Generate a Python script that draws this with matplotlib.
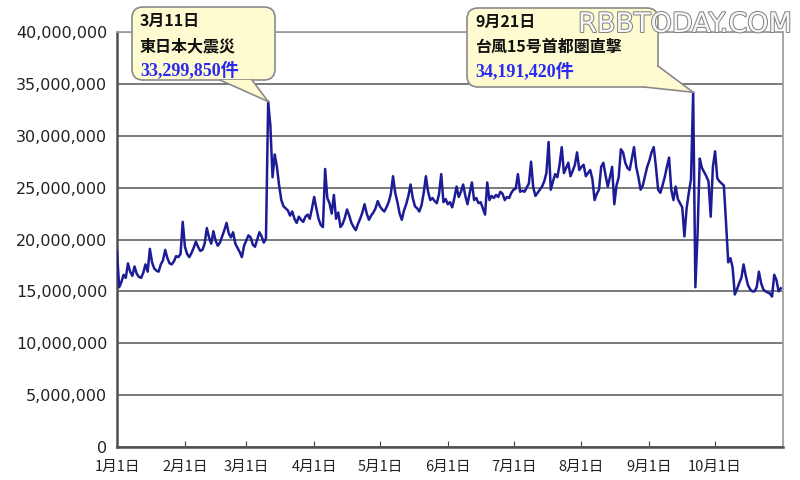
import numpy as np
import pandas as pd
import matplotlib
matplotlib.use('Agg')
import matplotlib.pyplot as plt
import matplotlib.dates as mdates
import matplotlib.patheffects as pe
from matplotlib.patches import FancyBboxPatch, Polygon
from matplotlib.lines import Line2D
from matplotlib.transforms import IdentityTransform

plt.rcParams['font.family'] = ['Noto Sans CJK JP', 'DejaVu Sans']

# daily counts (millions), 2011-01-01 .. 2011-10-31
jan = [18.8, 15.4, 15.9, 16.6, 16.3, 17.7, 16.9, 16.5, 17.4, 16.7,
       16.4, 16.3, 16.8, 17.6, 16.9, 19.1, 17.8, 17.2, 17.0, 16.9,
       17.6, 18.0, 19.0, 18.2, 17.7, 17.6, 17.9, 18.4, 18.3, 18.6, 21.7]
feb = [19.3, 18.6, 18.3, 18.7, 19.2, 19.8, 19.3, 18.9, 19.0, 19.6,
       21.1, 20.2, 19.6, 20.8, 19.9, 19.4, 19.7, 20.3, 20.9, 21.6,
       20.6, 20.2, 20.7, 19.6, 19.2, 18.8, 18.3, 19.4]
mar = [19.9, 20.4, 20.2, 19.5, 19.3, 20.0, 20.7, 20.3, 19.7, 20.1,
       33.29985, 31.0, 26.0, 28.2, 27.0, 25.2, 23.8, 23.2, 23.0, 22.8,
       22.3, 22.7, 22.0, 21.6, 22.2, 21.9, 21.7, 22.2, 22.4, 22.0, 23.0]
apr = [24.1, 23.0, 22.0, 21.4, 21.2, 26.8, 24.0, 23.5, 22.5, 24.3,
       22.0, 22.6, 21.2, 21.5, 22.1, 22.9, 22.3, 21.6, 21.2, 20.9,
       21.5, 22.0, 22.6, 23.4, 22.5, 21.9, 22.3, 22.6, 23.0, 23.7]
may = [23.2, 22.9, 22.7, 23.1, 23.6, 24.4, 26.1, 24.5, 23.6, 22.5,
       21.9, 22.8, 23.4, 24.2, 25.3, 24.0, 23.2, 23.0, 22.7, 23.3,
       24.5, 26.1, 24.6, 23.8, 24.0, 23.7, 23.5, 24.4, 26.3, 23.6, 23.9]
jun = [23.4, 23.6, 23.1, 24.0, 25.1, 24.1, 24.6, 25.3, 24.2, 23.4,
       24.5, 25.5, 23.8, 24.0, 23.5, 23.6, 23.0, 22.4, 25.5, 23.8,
       24.2, 24.0, 24.3, 24.1, 24.6, 24.4, 23.8, 24.1, 24.0, 24.5]
jul = [24.8, 24.9, 26.3, 24.6, 24.7, 24.6, 25.0, 25.4, 27.5, 25.0,
       24.2, 24.5, 24.8, 25.1, 25.6, 26.4, 29.4, 24.8, 25.6, 26.3,
       26.0, 27.2, 28.9, 26.4, 26.9, 27.4, 26.1, 26.6, 27.2, 28.4, 26.7]
aug = [27.0, 27.2, 26.1, 26.4, 26.7, 25.8, 23.8, 24.4, 24.8, 27.0,
       27.4, 26.2, 25.1, 26.0, 27.0, 23.4, 25.2, 26.0, 28.7, 28.4,
       27.4, 26.9, 26.7, 27.8, 28.9, 27.0, 26.0, 24.8, 25.2, 26.1, 27.0]
sep = [27.6, 28.4, 28.9, 27.0, 24.8, 24.5, 25.2, 26.0, 27.0, 27.9,
       24.8, 23.8, 25.1, 23.9, 23.5, 23.1, 20.3, 23.0, 24.5, 25.8,
       34.19142, 15.4, 20.5, 27.8, 26.9, 26.5, 26.1, 25.6, 22.2, 27.0]
oct_ = [28.5, 25.9, 25.6, 25.4, 25.2, 21.6, 17.8, 18.2, 17.3, 14.7,
        15.2, 15.8, 16.3, 17.6, 16.5, 15.6, 15.2, 15.0, 15.0, 15.4,
        16.9, 15.8, 15.2, 15.0, 14.9, 14.8, 14.5, 16.6, 16.1, 15.0, 15.3]

month_labels = ['1月1日', '2月1日', '3月1日', '4月1日', '5月1日',
                '6月1日', '7月1日', '8月1日', '9月1日', '10月1日']
y_ticks = [0, 5000000, 10000000, 15000000, 20000000,
           25000000, 30000000, 35000000, 40000000]

quake_date = '2011-03-11'
quake_lines = ['3月11日', '東日本大震災', '33,299,850件']
typhoon_date = '2011-09-21'
typhoon_lines = ['9月21日', '台風15号首都圏直撃', '34,191,420件']

values = np.array(jan + feb + mar + apr + may + jun + jul + aug + sep + oct_) * 1e6
dates = pd.date_range('2011-01-01', periods=len(values), freq='D')
series = pd.Series(values, index=dates)

W, H = 800, 480
fig = plt.figure(figsize=(W / 100, H / 100), dpi=100)
fig.patch.set_facecolor('white')
ax = fig.add_axes([117 / W, 1 - 447 / H, (783 - 117) / W, (447 - 32) / H])

ax.plot(series.index, series.values, color='#1c1c96', lw=1.8, zorder=3)

ax.set_ylim(0, 40000000)
ax.set_xlim(pd.Timestamp('2011-01-01'), pd.Timestamp('2011-11-01'))
ax.set_yticks(y_ticks)
ax.set_yticklabels(['{:,}'.format(v) for v in y_ticks], family='DejaVu Sans',
                   fontsize=11.5, color='#222222')
month_starts = pd.date_range('2011-01-01', periods=10, freq='MS')
ax.set_xticks(month_starts)
ax.set_xticklabels(month_labels, fontsize=10.5, color='#222222')
ax.tick_params(axis='x', direction='in', length=4, pad=9, color='#404040')
ax.tick_params(axis='y', length=0, pad=7)
ax.grid(axis='y', color='#7a7a7a', lw=1.4)
ax.set_axisbelow(True)
for s in ['top', 'right']:
    ax.spines[s].set_color('#a0a0a0')
    ax.spines[s].set_linewidth(1.3)
for s in ['left', 'bottom']:
    ax.spines[s].set_color('#505050')
    ax.spines[s].set_linewidth(1.8)


def bubble(x0, y0, x1, y1, base1, base2, tip_date, tip_val, lines):
    # box in pixel coords from the top-left corner of the image
    fc, ec = '#fdfbcf', '#8a8a8a'
    box = FancyBboxPatch((x0, H - y1), x1 - x0, y1 - y0,
                         boxstyle='round,pad=0,rounding_size=11',
                         transform=IdentityTransform(), fc=fc, ec=ec, lw=1.2,
                         zorder=10, clip_on=False)
    fig.add_artist(box)
    tx, ty = ax.transData.transform((mdates.date2num(pd.Timestamp(tip_date)), tip_val))
    pts = [(base1[0], H - base1[1]), (tx, ty), (base2[0], H - base2[1])]
    fig.add_artist(Polygon(pts, closed=True, transform=IdentityTransform(),
                           fc=fc, ec='none', zorder=11, clip_on=False))
    for b in (pts[0], pts[2]):
        fig.add_artist(Line2D([b[0], tx], [b[1], ty], transform=IdentityTransform(),
                              color=ec, lw=1.2, zorder=12))
    fig.text((x0 + 8) / W, 1 - (y0 + 14) / H, lines[0], fontsize=11.5,
             fontweight='bold', color='#111111', va='center', zorder=13)
    fig.text((x0 + 8) / W, 1 - (y0 + 39) / H, lines[1], fontsize=11.5,
             fontweight='bold', color='#111111', va='center', zorder=13)
    fig.text((x0 + 8) / W, 1 - (y0 + 63) / H, lines[2], fontsize=13,
             fontweight='bold', color='#2a2af0', va='center', zorder=13,
             family=['Liberation Serif', 'Noto Sans CJK JP'])


bubble(132, 7, 275, 80, (220, 80), (252, 80), quake_date, series[quake_date], quake_lines)
bubble(467, 8, 658, 87, (658, 66), (644, 87), typhoon_date, series[typhoon_date], typhoon_lines)

fig.text(578 / W, 1 - 32 / H, 'RBBTODAY.COM', fontsize=19.5, color='#f7f7f7',
         family='DejaVu Sans', va='baseline', zorder=20,
         path_effects=[pe.withStroke(linewidth=1.4, foreground='#808080')])

fig.savefig('out.png', dpi=100, facecolor='white')
